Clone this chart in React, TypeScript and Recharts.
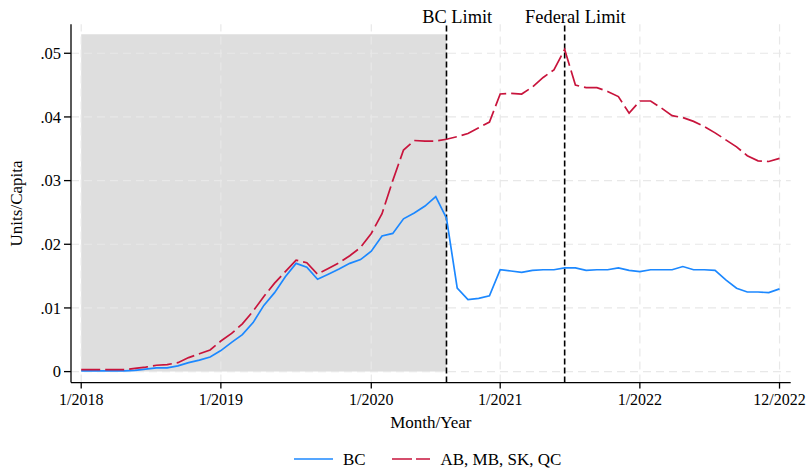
import React from 'react';
import {
  LineChart,
  Line,
  XAxis,
  YAxis,
  ReferenceArea,
  ReferenceLine,
  Label,
  Legend,
} from 'recharts';

// 4-week reporting periods, Jan 2018 through Dec 2022 (index 0..65)
const periods = [
  0, 1, 2, 3, 4, 5, 6, 7, 8, 9, 10, 11, 12, 13, 14, 15, 16, 17, 18, 19, 20, 21,
  22, 23, 24, 25, 26, 27, 28, 29, 30, 31, 32, 33, 34, 35, 36, 37, 38, 39, 40, 41,
  42, 43, 44, 45, 46, 47, 48, 49, 50, 51, 52, 53, 54, 55, 56, 57, 58, 59, 60, 61,
  62, 63, 64, 65,
];

const bcUnits = [
  0.0001, 0.0001, 0.0001, 0.0001, 0.0001, 0.0002, 0.0004, 0.0006, 0.0006, 0.0009,
  0.0014, 0.0018, 0.0023, 0.0033, 0.0046, 0.0058, 0.0077, 0.0104, 0.0124, 0.0149,
  0.017, 0.0164, 0.0145, 0.0153, 0.0161, 0.017, 0.0176, 0.0189, 0.0213, 0.0217,
  0.024, 0.0249, 0.026, 0.0275, 0.0241, 0.0131, 0.0113, 0.0115, 0.0119, 0.016,
  0.0158, 0.0156, 0.0159, 0.016, 0.016, 0.0163, 0.0163, 0.0159, 0.016, 0.016,
  0.0163, 0.0159, 0.0157, 0.016, 0.016, 0.016, 0.0165, 0.016, 0.016, 0.0159,
  0.0144, 0.0131, 0.0125, 0.0125, 0.0124, 0.013,
];

const otherProvUnits = [
  0.0003, 0.0003, 0.0003, 0.0003, 0.0003, 0.0005, 0.0007, 0.001, 0.0011, 0.0014,
  0.0022, 0.0028, 0.0034, 0.0048, 0.006, 0.0075, 0.0095, 0.0118, 0.0139, 0.0157,
  0.0175, 0.0171, 0.0153, 0.0162, 0.0171, 0.0182, 0.0195, 0.0217, 0.0248, 0.03,
  0.0348, 0.0363, 0.0362, 0.0362, 0.0365, 0.0369, 0.0374, 0.0383, 0.0392, 0.0436,
  0.0437, 0.0436, 0.0447, 0.0462, 0.0474, 0.0506, 0.045, 0.0446, 0.0446, 0.044,
  0.0432, 0.0406, 0.0425, 0.0425, 0.0414, 0.0402, 0.0399, 0.0393, 0.0385, 0.0375,
  0.0364, 0.0353, 0.0339, 0.0331, 0.033, 0.0335,
];

const xTickPeriods = [0, 13, 27, 39, 52, 65];
const xTickLabels = ['1/2018', '1/2019', '1/2020', '1/2021', '1/2022', '12/2022'];
const yTicks = [0, 0.01, 0.02, 0.03, 0.04, 0.05];

const bcLimitPeriod = 34;
const federalLimitPeriod = 45;
const shadeTopValue = 0.053;

const seriesNames = ['BC', 'AB, MB, SK, QC'];

const data = periods.map((p, i) => ({
  period: p,
  bc: bcUnits[i],
  other: otherProvUnits[i],
}));

const FONT = '"Liberation Serif", "Times New Roman", serif';
const BLUE = '#1c88ff';
const RED = '#c8143c';
const GRID = '#e8e8e8';

const formatY = (v: number) => (v === 0 ? '0' : v.toFixed(2).replace(/^0/, ''));
const formatX = (v: number) => {
  const idx = xTickPeriods.indexOf(v);
  return idx >= 0 ? xTickLabels[idx] : '';
};

const LegendContent = () => (
  <svg width={290} height={24} style={{ display: 'block', overflow: 'visible' }}>
    <line x1={0} x2={39} y1={12} y2={12} stroke={BLUE} strokeWidth={1.7} />
    <text x={49} y={18} fontFamily={FONT} fontSize={17} fill="#000">
      {seriesNames[0]}
    </text>
    <line
      x1={98}
      x2={136}
      y1={12}
      y2={12}
      stroke={RED}
      strokeWidth={1.7}
      strokeDasharray="20 4"
    />
    <text x={146.5} y={18} fontFamily={FONT} fontSize={17} fill="#000">
      {seriesNames[1]}
    </text>
  </svg>
);

export default function App() {
  return (
    <div style={{ position: 'absolute', left: 0, top: 0, width: 808, height: 468, background: '#fff' }}>
      <LineChart
        width={808}
        height={468}
        data={data}
        margin={{ top: 24.3, right: 17.3, bottom: 0, left: 0 }}
      >
        <ReferenceArea
          x1={0}
          x2={bcLimitPeriod}
          y1={0}
          y2={shadeTopValue}
          fill="#dedede"
          fillOpacity={1}
          stroke="none"
          ifOverflow="visible"
        />
        {/* dashed grid drawn above the shaded pre-limit window */}
        {yTicks.map((t) => (
          <ReferenceLine
            key={`gy-${t}`}
            y={t}
            stroke={GRID}
            strokeWidth={1.2}
            strokeDasharray="8 5"
          />
        ))}
        {xTickPeriods.map((t) => (
          <ReferenceLine
            key={`gx-${t}`}
            x={t}
            stroke={GRID}
            strokeWidth={1.2}
            strokeDasharray="8 5"
          />
        ))}
        <XAxis
          dataKey="period"
          type="number"
          domain={[-0.95, 66.04]}
          ticks={xTickPeriods}
          tickFormatter={formatX}
          allowDataOverflow
          height={61.4}
          stroke="#000"
          strokeWidth={1.3}
          tickSize={6}
          tickMargin={5}
          tick={{ fill: '#000', fontSize: 16, fontFamily: FONT }}
          interval={0}
        >
          <Label
            content={(props: any) => {
              const vb = props.viewBox || {};
              return (
                <text
                  x={vb.x + vb.width / 2}
                  y={428}
                  textAnchor="middle"
                  fontFamily={FONT}
                  fontSize={17}
                  fill="#000"
                >
                  Month/Year
                </text>
              );
            }}
          />
        </XAxis>
        <YAxis
          type="number"
          domain={[-0.001727, 0.05455]}
          ticks={yTicks}
          tickFormatter={formatY}
          allowDataOverflow
          width={71}
          stroke="#000"
          strokeWidth={1.3}
          tickSize={7}
          tickMargin={3}
          tick={{ fill: '#000', fontSize: 16.5, fontFamily: FONT }}
          interval={0}
        >
          <Label
            content={(props: any) => {
              const vb = props.viewBox || {};
              const cy = vb.y + vb.height / 2;
              return (
                <text
                  x={0}
                  y={0}
                  transform={`translate(21.5, ${cy}) rotate(-90)`}
                  textAnchor="middle"
                  fontFamily={FONT}
                  fontSize={17}
                  fill="#000"
                >
                  Units/Capita
                </text>
              );
            }}
          />
        </YAxis>
        <ReferenceLine
          x={bcLimitPeriod}
          stroke="#000"
          strokeWidth={1.6}
          strokeDasharray="6 3"
        />
        <ReferenceLine
          x={federalLimitPeriod}
          stroke="#000"
          strokeWidth={1.6}
          strokeDasharray="6 3"
        />
        <ReferenceLine x={bcLimitPeriod + 1} stroke="none">
          <Label value="BC Limit" position="top" offset={1.8} fill="#000" fontSize={18.4} fontFamily={FONT} />
        </ReferenceLine>
        <ReferenceLine x={federalLimitPeriod + 1} stroke="none">
          <Label value="Federal Limit" position="top" offset={1.8} fill="#000" fontSize={18.4} fontFamily={FONT} />
        </ReferenceLine>
        <Line
          type="linear"
          dataKey="bc"
          name={seriesNames[0]}
          stroke={BLUE}
          strokeWidth={1.7}
          dot={false}
          activeDot={false}
          isAnimationActive={false}
        />
        <Line
          type="linear"
          dataKey="other"
          name={seriesNames[1]}
          stroke={RED}
          strokeWidth={1.7}
          strokeDasharray="19 5"
          dot={false}
          activeDot={false}
          isAnimationActive={false}
        />
        <Legend
          layout="vertical"
          align="center"
          verticalAlign="bottom"
          content={<LegendContent />}
          wrapperStyle={{ position: 'absolute', left: 294, top: 447, width: 290, height: 24 }}
        />
      </LineChart>
    </div>
  );
}
